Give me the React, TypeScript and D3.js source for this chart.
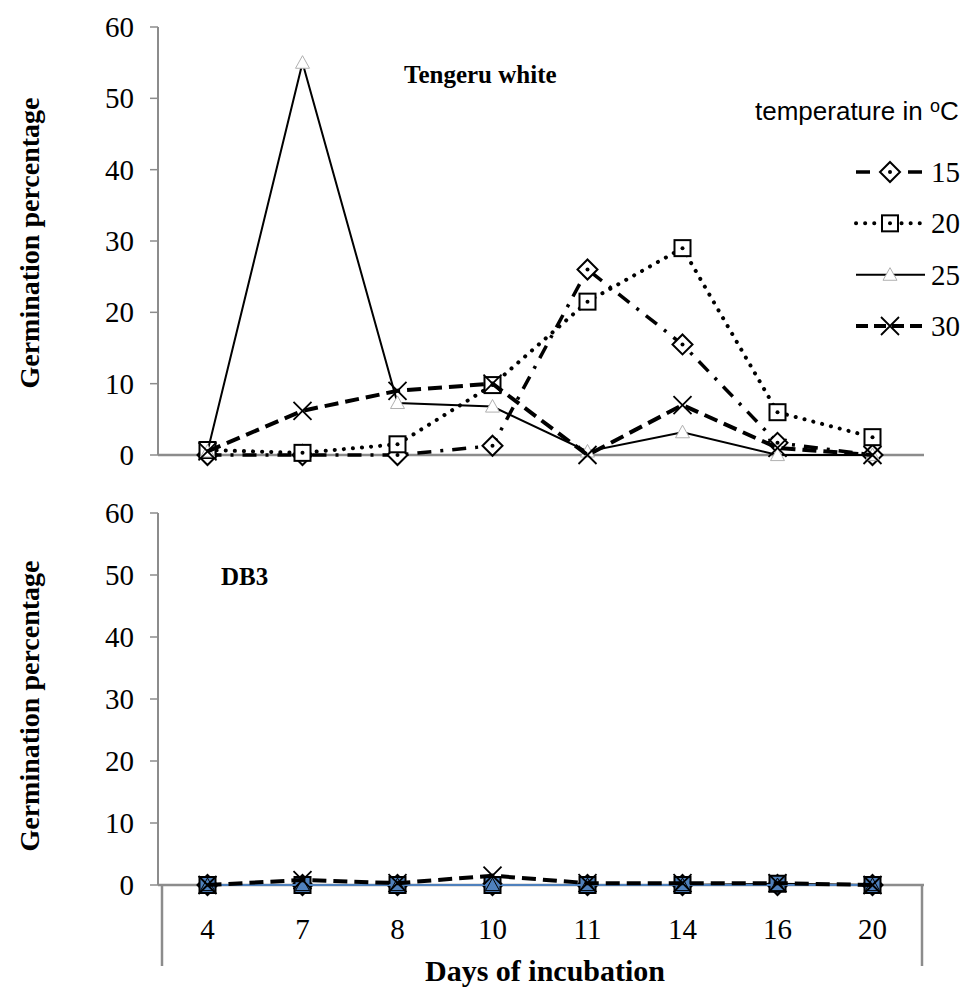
import React from "react";
import * as d3 from "d3";

const days = ["4", "7", "8", "10", "11", "14", "16", "20"];
const temps = ["15", "20", "25", "30"];

// Tengeru white
const tw15 = [0, 0, 0, 1.3, 26, 15.5, 1.7, 0];
const tw20 = [0.7, 0.3, 1.5, 9.8, 21.5, 29, 6, 2.5];
const tw25 = [0.5, 55, 7.3, 6.8, 0.5, 3.2, 0, 0];
const tw30 = [0.5, 6.2, 9, 10, 0, 7, 1, 0];

// DB3
const db15 = [0, 0, 0, 0, 0, 0, 0, 0];
const db20 = [0, 0, 0, 0, 0, 0, 0.2, 0];
const db25 = [0, 0, 0, 0, 0, 0, 0, 0];
const db30 = [0, 0.8, 0.3, 1.5, 0.3, 0.3, 0.3, 0];

const yTicks = [0, 10, 20, 30, 40, 50, 60];

const SERIF = "'Liberation Serif', 'Times New Roman', serif";
const SANS = "'Liberation Sans', Arial, sans-serif";
const GREY = "#8c8c8c";

const styles: Record<string, { dash: string; width: number; cap: string }> = {
  "15": { dash: "14,9,3,9", width: 3.5, cap: "butt" },
  "20": { dash: "0.1,9", width: 4, cap: "round" },
  "25": { dash: "", width: 2, cap: "butt" },
  "30": { dash: "14,7", width: 4, cap: "butt" },
};

function Marker({ t, x, y, db }: { t: string; x: number; y: number; db?: boolean }) {
  if (t === "15") {
    const s = 10;
    return (
      <g>
        <path d={`M${x},${y - s}L${x + s},${y}L${x},${y + s}L${x - s},${y}Z`} fill={db ? "#4f81bd" : "#fff"} stroke="#000" strokeWidth={2} />
        {!db && <circle cx={x} cy={y} r={2} fill="#000" />}
      </g>
    );
  }
  if (t === "20") {
    const s = 8;
    return (
      <g>
        <rect x={x - s} y={y - s} width={2 * s} height={2 * s} fill={db ? "#4f81bd" : "#fff"} stroke="#000" strokeWidth={2} />
        {!db && <circle cx={x} cy={y} r={2} fill="#000" />}
      </g>
    );
  }
  if (t === "25") {
    const s = 7;
    return (
      <path
        d={`M${x},${y - s}L${x + s},${y + s * 0.8}L${x - s},${y + s * 0.8}Z`}
        fill={db ? "#4f81bd" : "#fff"}
        stroke={db ? "#000" : "#b0b0b0"}
        strokeWidth={1}
      />
    );
  }
  const s = 9;
  return (
    <path d={`M${x - s},${y - s}L${x + s},${y + s}M${x + s},${y - s}L${x - s},${y + s}`} stroke="#000" strokeWidth={1.8} />
  );
}

function Panel({
  top,
  bottom,
  series,
  title,
  titleX,
  titleY,
  labelY,
  db,
}: {
  top: number;
  bottom: number;
  series: number[][];
  title: string;
  titleX: number;
  titleY: number;
  labelY: number;
  db?: boolean;
}) {
  const x = d3.scaleBand().domain(days).range([160, 920]);
  const y = d3.scaleLinear().domain([0, 60]).range([bottom, top]);
  const cx = (d: string) => (x(d) as number) + x.bandwidth() / 2;
  const line = d3
    .line<number>()
    .x((_, i) => cx(days[i]))
    .y((v) => y(v));
  return (
    <g>
      <line x1={158} x2={158} y1={top} y2={bottom} stroke={GREY} strokeWidth={2} />
      {yTicks.map((t) => (
        <g key={t}>
          <line x1={150} x2={158} y1={y(t)} y2={y(t)} stroke={GREY} strokeWidth={1.5} />
          <text x={134} y={y(t)} dy="0.35em" textAnchor="end" fontFamily={SERIF} fontSize={29}>
            {t}
          </text>
        </g>
      ))}
      <line x1={158} x2={924} y1={bottom} y2={bottom} stroke={GREY} strokeWidth={2.5} />
      <text
        transform={`translate(39,${labelY}) rotate(-90)`}
        textAnchor="middle"
        fontFamily={SERIF}
        fontWeight="bold"
        fontSize={28}
      >
        Germination percentage
      </text>
      <text x={titleX} y={titleY} fontFamily={SERIF} fontWeight="bold" fontSize={25}>
        {title}
      </text>
      {series.map((vals, si) => {
        const t = temps[si];
        const st = styles[t];
        const isDb25 = db && t !== "30";
        return (
          <g key={t}>
            <path
              d={line(vals) as string}
              fill="none"
              stroke={isDb25 ? (t === "15" ? "#c0504d" : t === "25" ? "#4f81bd" : "#000") : "#000"}
              strokeWidth={db && t !== "30" ? 2 : st.width}
              strokeDasharray={db && t !== "30" ? (t === "15" ? "2,3" : "") : st.dash}
              strokeLinecap={st.cap as any}
            />
            {vals.map((v, i) => (
              <Marker key={i} t={t} x={cx(days[i])} y={y(v)} db={db} />
            ))}
          </g>
        );
      })}
    </g>
  );
}

export default function App() {
  const topSeries = [tw15, tw20, tw25, tw30];
  const dbSeries = [db15, db20, db25, db30];
  const xb = d3.scaleBand().domain(days).range([160, 920]);
  const legendY = d3.scalePoint().domain(temps).range([172, 326]);
  return (
    <svg width={963} height={982} style={{ display: "block" }}>
      <g transform="translate(-8,-8)">
        <Panel top={27} bottom={455} series={topSeries} title="Tengeru white" titleX={404} titleY={83} labelY={243} />
        <Panel top={513} bottom={885} series={dbSeries} title="DB3" titleX={221} titleY={585} labelY={706} db />
        {/* category box */}
        <line x1={162} x2={162} y1={885} y2={966} stroke={GREY} strokeWidth={2.5} />
        <line x1={922} x2={922} y1={885} y2={966} stroke={GREY} strokeWidth={2.5} />
        {days.map((d) => (
          <text
            key={d}
            x={(xb(d) as number) + xb.bandwidth() / 2}
            y={939}
            textAnchor="middle"
            fontFamily={SERIF}
            fontSize={29}
          >
            {d}
          </text>
        ))}
        <text x={545} y={981} textAnchor="middle" fontFamily={SERIF} fontWeight="bold" fontSize={30}>
          Days of incubation
        </text>
        {/* legend */}
        <text x={755} y={120} fontFamily={SANS} fontSize={26}>
          temperature in <tspan fontSize={18} dy={-8}>o</tspan>
          <tspan dy={8}>C</tspan>
        </text>
        {temps.map((t) => {
          const ly = legendY(t) as number;
          const st = styles[t];
          return (
            <g key={t}>
              <line
                x1={856}
                x2={925}
                y1={ly}
                y2={ly}
                stroke="#000"
                strokeWidth={st.width}
                strokeDasharray={t === "15" ? "14,12" : t === "30" ? "12,6" : st.dash}
                strokeLinecap={st.cap as any}
              />
              <Marker t={t} x={890} y={ly} />
              <text x={931} y={ly} dy="0.35em" fontFamily={SERIF} fontSize={29}>
                {t}
              </text>
            </g>
          );
        })}
      </g>
    </svg>
  );
}
